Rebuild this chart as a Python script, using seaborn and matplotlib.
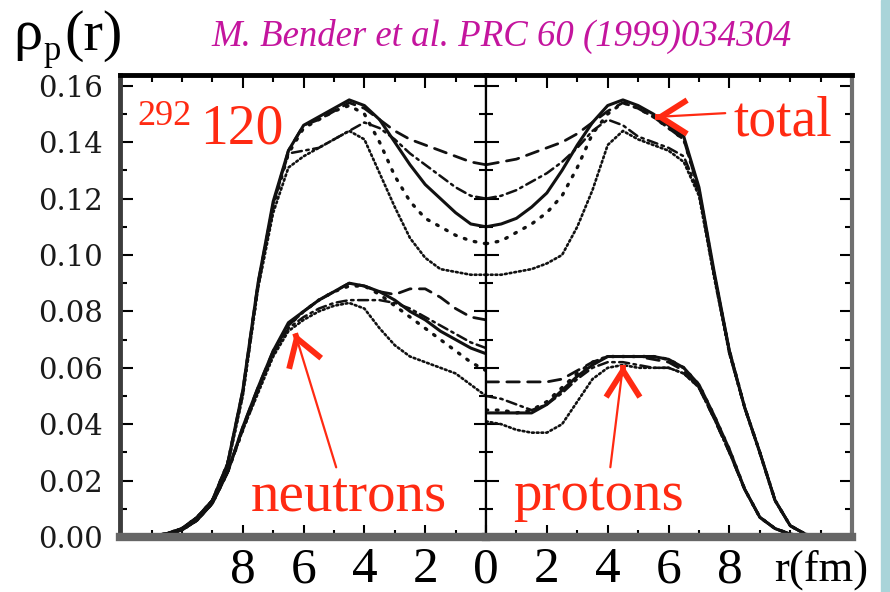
import numpy as np
import pandas as pd
import matplotlib
matplotlib.use("Agg")
import matplotlib.pyplot as plt
from matplotlib.ticker import MultipleLocator, FixedLocator
from matplotlib.patches import Rectangle, FancyArrowPatch
import seaborn as sns

sns.set_style("white")
plt.rcParams["font.family"] = ["Liberation Serif", "DejaVu Serif"]

# ---------------- data ----------------
r = [0, 0.5, 1, 1.5, 2, 2.5, 3, 3.5, 4, 4.5, 5, 5.5, 6, 6.5, 7, 7.5, 8, 8.5, 9, 9.5, 10, 10.5, 11, 12]
models = ["solid", "sparse", "dashed", "dashdot", "dense"]

# total density, left panel (plotted towards the left)
total_left_solid   = [0.110, 0.111, 0.115, 0.120, 0.125, 0.132, 0.140, 0.148, 0.153, 0.155, 0.152, 0.149, 0.146, 0.137, 0.119, 0.090, 0.052, 0.026, 0.013, 0.007, 0.003, 0.0012, 0.0003, 0]
total_left_sparse  = [0.104, 0.105, 0.107, 0.110, 0.113, 0.119, 0.128, 0.140, 0.150, 0.153, 0.151, 0.148, 0.145, 0.136, 0.117, 0.089, 0.051, 0.026, 0.013, 0.007, 0.003, 0.0012, 0.0003, 0]
total_left_dashed  = [0.132, 0.133, 0.135, 0.137, 0.139, 0.141, 0.144, 0.148, 0.152, 0.154, 0.151, 0.148, 0.146, 0.137, 0.118, 0.090, 0.052, 0.026, 0.013, 0.007, 0.003, 0.0012, 0.0003, 0]
total_left_dashdot = [0.120, 0.121, 0.124, 0.128, 0.132, 0.136, 0.141, 0.145, 0.147, 0.144, 0.141, 0.138, 0.137, 0.136, 0.118, 0.089, 0.051, 0.026, 0.013, 0.007, 0.003, 0.0012, 0.0003, 0]
total_left_dense   = [0.093, 0.093, 0.094, 0.095, 0.099, 0.106, 0.117, 0.129, 0.141, 0.144, 0.141, 0.138, 0.135, 0.131, 0.115, 0.088, 0.050, 0.025, 0.013, 0.007, 0.003, 0.0012, 0.0003, 0]

# neutron density, left panel
neutron_solid   = [0.065, 0.067, 0.070, 0.073, 0.077, 0.080, 0.084, 0.087, 0.089, 0.090, 0.087, 0.084, 0.080, 0.076, 0.066, 0.053, 0.039, 0.023, 0.012, 0.006, 0.0025, 0.001, 0.0003, 0]
neutron_sparse  = [0.059, 0.062, 0.066, 0.070, 0.074, 0.078, 0.082, 0.086, 0.089, 0.089, 0.087, 0.084, 0.080, 0.075, 0.065, 0.052, 0.038, 0.023, 0.012, 0.006, 0.0025, 0.001, 0.0003, 0]
neutron_dashed  = [0.077, 0.078, 0.081, 0.085, 0.088, 0.088, 0.086, 0.087, 0.089, 0.090, 0.087, 0.084, 0.080, 0.075, 0.066, 0.053, 0.039, 0.023, 0.012, 0.006, 0.0025, 0.001, 0.0003, 0]
neutron_dashdot = [0.067, 0.069, 0.072, 0.075, 0.078, 0.081, 0.083, 0.084, 0.084, 0.084, 0.083, 0.081, 0.078, 0.074, 0.065, 0.052, 0.038, 0.023, 0.012, 0.006, 0.0025, 0.001, 0.0003, 0]
neutron_dense   = [0.050, 0.054, 0.058, 0.060, 0.062, 0.064, 0.068, 0.074, 0.081, 0.083, 0.082, 0.080, 0.077, 0.073, 0.064, 0.051, 0.038, 0.023, 0.012, 0.006, 0.0025, 0.001, 0.0003, 0]

# total density, right panel
total_right_solid   = [0.110, 0.111, 0.113, 0.117, 0.122, 0.130, 0.139, 0.147, 0.153, 0.155, 0.153, 0.150, 0.146, 0.142, 0.124, 0.094, 0.066, 0.046, 0.030, 0.013, 0.004, 0.001, 0.0002, 0]
total_right_sparse  = [0.104, 0.105, 0.108, 0.111, 0.115, 0.121, 0.131, 0.143, 0.150, 0.154, 0.152, 0.149, 0.145, 0.141, 0.123, 0.093, 0.066, 0.046, 0.030, 0.013, 0.004, 0.001, 0.0002, 0]
total_right_dashed  = [0.132, 0.133, 0.134, 0.136, 0.138, 0.140, 0.143, 0.147, 0.151, 0.154, 0.152, 0.149, 0.145, 0.141, 0.123, 0.093, 0.066, 0.046, 0.030, 0.013, 0.004, 0.001, 0.0002, 0]
total_right_dashdot = [0.120, 0.121, 0.123, 0.126, 0.129, 0.133, 0.138, 0.144, 0.148, 0.146, 0.142, 0.140, 0.138, 0.135, 0.122, 0.093, 0.065, 0.046, 0.030, 0.013, 0.004, 0.001, 0.0002, 0]
total_right_dense   = [0.093, 0.093, 0.094, 0.095, 0.097, 0.100, 0.110, 0.123, 0.139, 0.144, 0.141, 0.139, 0.137, 0.133, 0.121, 0.092, 0.065, 0.046, 0.030, 0.013, 0.004, 0.001, 0.0002, 0]

# proton density, right panel
proton_solid   = [0.044, 0.044, 0.044, 0.044, 0.047, 0.052, 0.057, 0.061, 0.064, 0.064, 0.064, 0.064, 0.063, 0.060, 0.054, 0.043, 0.031, 0.017, 0.007, 0.003, 0.001, 0.0003, 0, 0]
proton_sparse  = [0.045, 0.045, 0.044, 0.045, 0.048, 0.053, 0.058, 0.062, 0.064, 0.064, 0.064, 0.064, 0.063, 0.060, 0.054, 0.043, 0.031, 0.017, 0.007, 0.003, 0.001, 0.0003, 0, 0]
proton_dashed  = [0.055, 0.055, 0.055, 0.055, 0.055, 0.056, 0.059, 0.062, 0.064, 0.064, 0.064, 0.063, 0.062, 0.059, 0.053, 0.042, 0.030, 0.017, 0.007, 0.003, 0.001, 0.0003, 0, 0]
proton_dashdot = [0.050, 0.049, 0.047, 0.045, 0.047, 0.051, 0.056, 0.060, 0.062, 0.062, 0.061, 0.060, 0.060, 0.058, 0.053, 0.042, 0.030, 0.017, 0.007, 0.003, 0.001, 0.0003, 0, 0]
proton_dense   = [0.041, 0.040, 0.038, 0.037, 0.037, 0.040, 0.048, 0.056, 0.060, 0.061, 0.060, 0.060, 0.060, 0.058, 0.053, 0.042, 0.030, 0.017, 0.007, 0.003, 0.001, 0.0003, 0, 0]

y_ticks = [0.00, 0.02, 0.04, 0.06, 0.08, 0.10, 0.12, 0.14, 0.16]
y_tick_labels = ["0.00", "0.02", "0.04", "0.06", "0.08", "0.10", "0.12", "0.14", "0.16"]
x_ticks_left = [2, 4, 6, 8]
x_ticks_right = [0, 2, 4, 6, 8]

left_sets = {"total": [total_left_solid, total_left_sparse, total_left_dashed, total_left_dashdot, total_left_dense],
             "neutrons": [neutron_solid, neutron_sparse, neutron_dashed, neutron_dashdot, neutron_dense]}
right_sets = {"total": [total_right_solid, total_right_sparse, total_right_dashed, total_right_dashdot, total_right_dense],
              "protons": [proton_solid, proton_sparse, proton_dashed, proton_dashdot, proton_dense]}


def to_frame(sets):
    rows = []
    for q, arrs in sets.items():
        for m, vals in zip(models, arrs):
            for rv, yv in zip(r, vals):
                rows.append((rv, yv, m, q))
    return pd.DataFrame(rows, columns=["r", "rho", "model", "quantity"])


dfL = to_frame(left_sets)
dfR = to_frame(right_sets)

# ---------------- figure ----------------
W, H = 890, 592
fig = plt.figure(figsize=(W / 100, H / 100), dpi=100)
fig.patch.set_facecolor("white")


def fx(px):
    return px / W


def fy(py):
    return 1 - py / H


X0, XC, X1, YT, YB = 120, 486, 852, 75, 537
axL = fig.add_axes([fx(X0), fy(YB), fx(XC) - fx(X0), fy(YT) - fy(YB)])
axR = fig.add_axes([fx(XC), fy(YB), fx(X1) - fx(XC), fy(YT) - fy(YB)])

dash_map = {"solid": "", "sparse": (0.5, 2.6), "dashed": (4.5, 3.0), "dashdot": (4, 1.8, 1, 1.8), "dense": (0.7, 1.1)}
width_map = {"solid": 2.2, "sparse": 2.4, "dashed": 2.0, "dashdot": 1.8, "dense": 1.9}

for ax, df in ((axL, dfL), (axR, dfR)):
    for m in models:
        sub = df[df["model"] == m]
        n_before = len(ax.get_lines())
        sns.lineplot(data=sub, x="r", y="rho", units="quantity", estimator=None,
                     color="#111111", lw=width_map[m], ax=ax, legend=False, sort=False)
        for ln in ax.get_lines()[n_before:]:
            if dash_map[m]:
                ln.set_dashes(dash_map[m])
            ln.set_dash_capstyle("round")

ymax = (YB - YT) / 2820.0
axL.set_xlim(12.04, 0)
axR.set_xlim(0, 12.03)
for ax in (axL, axR):
    ax.set_ylim(0, ymax)
    ax.set_xlabel("")
    ax.set_ylabel("")
    ax.yaxis.set_major_locator(FixedLocator(y_ticks))
    ax.yaxis.set_minor_locator(MultipleLocator(0.01))
    ax.xaxis.set_minor_locator(MultipleLocator(1))
    ax.tick_params(which="both", direction="in", top=True, bottom=True, left=True, right=True,
                   colors="black", width=1.5)
    ax.tick_params(which="major", length=9)
    ax.tick_params(which="minor", length=5)
    ax.set_facecolor("white")

axL.set_xticks(x_ticks_left)
axL.set_xticklabels([str(t) for t in x_ticks_left])
axR.set_xticks(x_ticks_right)
axR.set_xticklabels([str(t) for t in x_ticks_right])
axL.set_yticks(y_ticks)
axL.set_yticklabels(y_tick_labels)
axR.tick_params(labelleft=False)
for ax in (axL, axR):
    ax.tick_params(axis="x", which="major", labelsize=37, pad=7)
    for lab in ax.get_xticklabels():
        lab.set_family("Liberation Serif")
axL.tick_params(axis="y", which="major", labelsize=21, pad=12)
for lab in axL.get_yticklabels():
    lab.set_family("DejaVu Serif")
    lab.set_color("#1a1a1a")

# spines
for ax in (axL, axR):
    ax.spines["top"].set_linewidth(3.5)
    ax.spines["top"].set_color("black")
    ax.spines["bottom"].set_linewidth(6)
    ax.spines["bottom"].set_color("#666666")
axL.spines["left"].set_linewidth(3.5)
axL.spines["left"].set_color("#3c3c3c")
axL.spines["right"].set_linewidth(1.6)
axL.spines["right"].set_color("black")
axR.spines["left"].set_linewidth(1.6)
axR.spines["left"].set_color("black")
axR.spines["right"].set_linewidth(3)
axR.spines["right"].set_color("#707070")

# ---------------- texts ----------------
RED = "#FF2A12"
SERIF = "Liberation Serif"
fig.text(fx(13), fy(49), "\u03c1", fontsize=42, color="black", family=SERIF, va="baseline")
fig.text(fx(44), fy(60), "p", fontsize=25, color="black", family=SERIF, va="baseline")
fig.text(fx(64), fy(50), "(r)", fontsize=42, color="black", family=SERIF, va="baseline")
fig.text(fx(502), fy(36), "M. Bender et al. PRC 60 (1999)034304", fontsize=26.5, style="italic",
         family=SERIF, color="#C4159E", ha="center", va="center")
fig.text(fx(137), fy(125), "292", fontsize=26, color=RED, family=SERIF, va="baseline")
fig.text(fx(200), fy(143), "120", fontsize=40, color=RED, family=SERIF, va="baseline")
fig.text(fx(733), fy(135), "total", fontsize=40, color=RED, family=SERIF, va="baseline")
fig.text(fx(251), fy(512), "neutrons", fontsize=41, color=RED, family=SERIF, va="baseline")
fig.text(fx(513), fy(510), "protons", fontsize=41, color=RED, family=SERIF, va="baseline")
fig.text(fx(774), fy(581), "r(fm)", fontsize=32, color="black", family=SERIF, va="baseline")


def arrow(tip, tail, head_from):
    fig.add_artist(FancyArrowPatch(
        (fx(tail[0]), fy(tail[1])), (fx(tip[0]), fy(tip[1])), transform=fig.transFigure,
        arrowstyle="-", color=RED, lw=1.6))
    fig.add_artist(FancyArrowPatch(
        (fx(head_from[0]), fy(head_from[1])), (fx(tip[0]), fy(tip[1])), transform=fig.transFigure,
        arrowstyle="->,head_length=0.6,head_width=0.38", mutation_scale=32, color=RED, lw=4.2,
        joinstyle="miter", capstyle="butt"))


arrow((655, 117), (728, 113), (658, 117))
arrow((295, 333), (337, 470), (296, 336))
arrow((623, 365), (610, 470), (623, 368))

# light slide edge strip at the right
fig.add_artist(Rectangle((fx(881), 0), fx(9), 1, transform=fig.transFigure, color="#A9D4D9", zorder=-1))

fig.savefig("out.png", dpi=100, facecolor="white")
